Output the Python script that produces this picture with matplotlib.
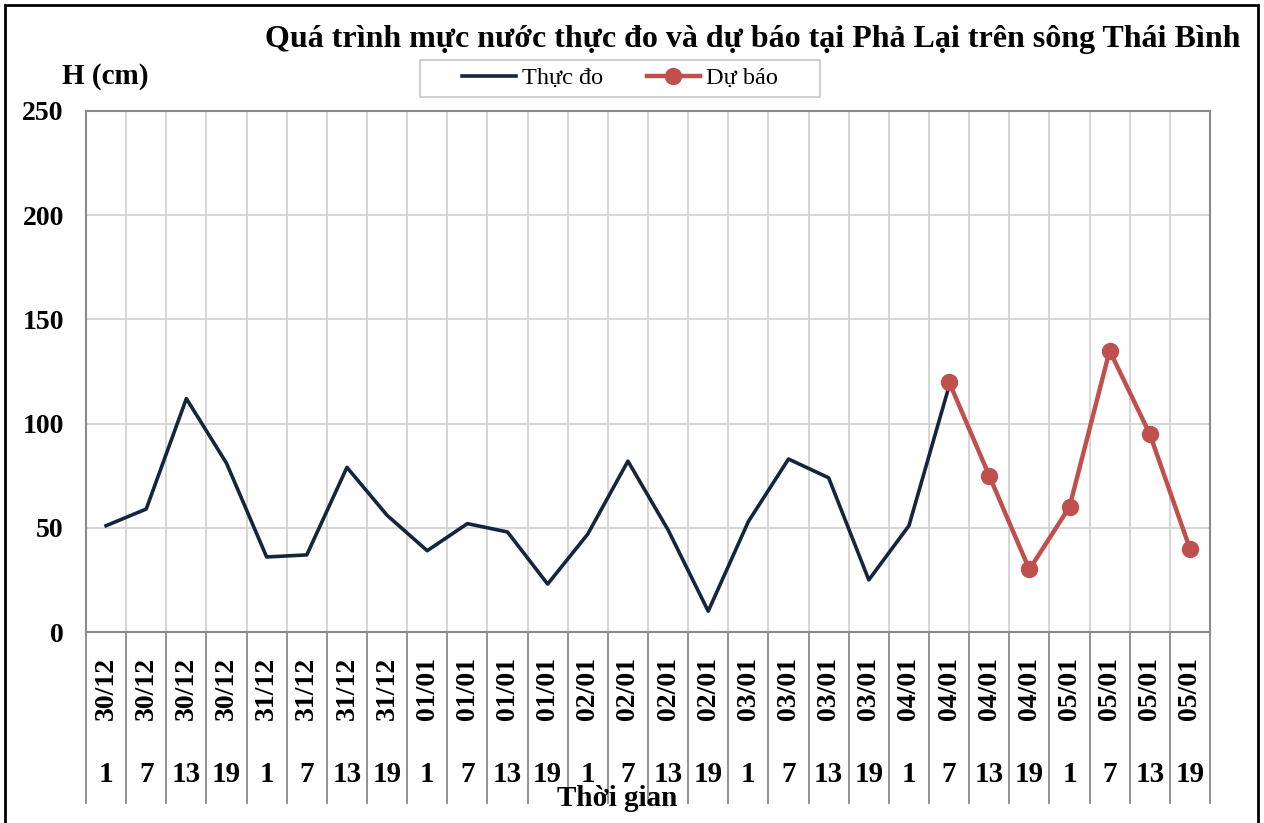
import numpy as np
import matplotlib.pyplot as plt
from matplotlib.patches import Rectangle
from matplotlib.transforms import blended_transform_factory

plt.rcParams['font.family'] = ['Liberation Serif', 'DejaVu Serif']

# Dữ liệu mực nước (cm)
dates = ["30/12"] * 4 + ["31/12"] * 4 + ["01/01"] * 4 + ["02/01"] * 4 + \
        ["03/01"] * 4 + ["04/01"] * 4 + ["05/01"] * 4
hours = ["1", "7", "13", "19"] * 7
thuc_do = [51, 59, 112, 81, 36, 37, 79, 56, 39, 52, 48, 23, 47, 82, 49, 10,
           53, 83, 74, 25, 51, 118]
du_bao = [120, 75, 30, 60, 135, 95, 40]
du_bao_start = 21

W, H = 1264, 823
fig = plt.figure(figsize=(W / 100, H / 100), dpi=100)
ax = fig.add_axes([86 / W, (H - 632) / H, (1210 - 86) / W, (632 - 111) / H])

n = len(dates)
x_td = np.arange(len(thuc_do))
x_db = np.arange(du_bao_start, du_bao_start + len(du_bao))

ax.plot(x_td, thuc_do, color='#14253f', lw=2.6, label='Thực đo', zorder=3)
ax.plot(x_db, du_bao, color='#c0504d', lw=3.2, marker='o', ms=11.5,
        label='Dự báo', zorder=4)

ax.set_xlim(-0.5, n - 0.5)
ax.set_ylim(0, 250)
ax.set_yticks(np.arange(0, 251, 50))
ax.set_xticks(np.arange(-0.5, n, 1), minor=False)
ax.set_xticklabels([])
ax.tick_params(axis='x', length=0)
ax.tick_params(axis='y', length=0, labelsize=20, pad=16)
for lbl in ax.get_yticklabels():
    lbl.set_fontweight('bold')
ax.grid(True, color='#d0d0d0', lw=1.2)
ax.set_axisbelow(True)
for s in ax.spines.values():
    s.set_color('#898989')
    s.set_linewidth(1.5)

# Nhãn trục x hai tầng
tr = blended_transform_factory(ax.transData, ax.transAxes)
for i in range(n):
    ax.text(i, -0.108, dates[i], transform=tr, rotation=90, ha='center',
            va='center', fontsize=20, fontweight='bold')
    ax.text(i, -0.273, hours[i], transform=tr, ha='center', va='center',
            fontsize=21, fontweight='bold')
for i in range(n + 1):
    ax.plot([i - 0.5, i - 0.5], [0, -0.328], transform=tr, color='#898989',
            lw=1.3, clip_on=False)

fig.text(1240 / W, 1 - 40 / H, 'Quá trình mực nước thực đo và dự báo tại Phả Lại trên sông Thái Bình',
         ha='right', va='center', fontsize=23, fontweight='bold')
fig.text(105 / W, 1 - 76 / H, 'H (cm)', ha='center', va='center',
         fontsize=21, fontweight='bold')
fig.text(617 / W, 1 - 799 / H, 'Thời gian', ha='center', va='center',
         fontsize=21, fontweight='bold')

# Chú giải: khung vẽ riêng
fig.patches.append(Rectangle((420 / W, 1 - 97 / H), 400 / W, 37 / H,
                             transform=fig.transFigure, fill=False,
                             edgecolor='#c8c8c8', lw=1.2))
fig.legend(loc='center', bbox_to_anchor=(620 / W, 1 - 78 / H), ncol=2,
           fontsize=17.5, frameon=False, handlelength=2.2, columnspacing=1.8,
           borderpad=0, handletextpad=0.25, borderaxespad=0)

fig.patches.append(Rectangle((5 / W, -0.01), 1253 / W, 1.01 - 5 / H,
                             transform=fig.transFigure, fill=False,
                             edgecolor='black', lw=2))

fig.savefig('out.png', dpi=100)
